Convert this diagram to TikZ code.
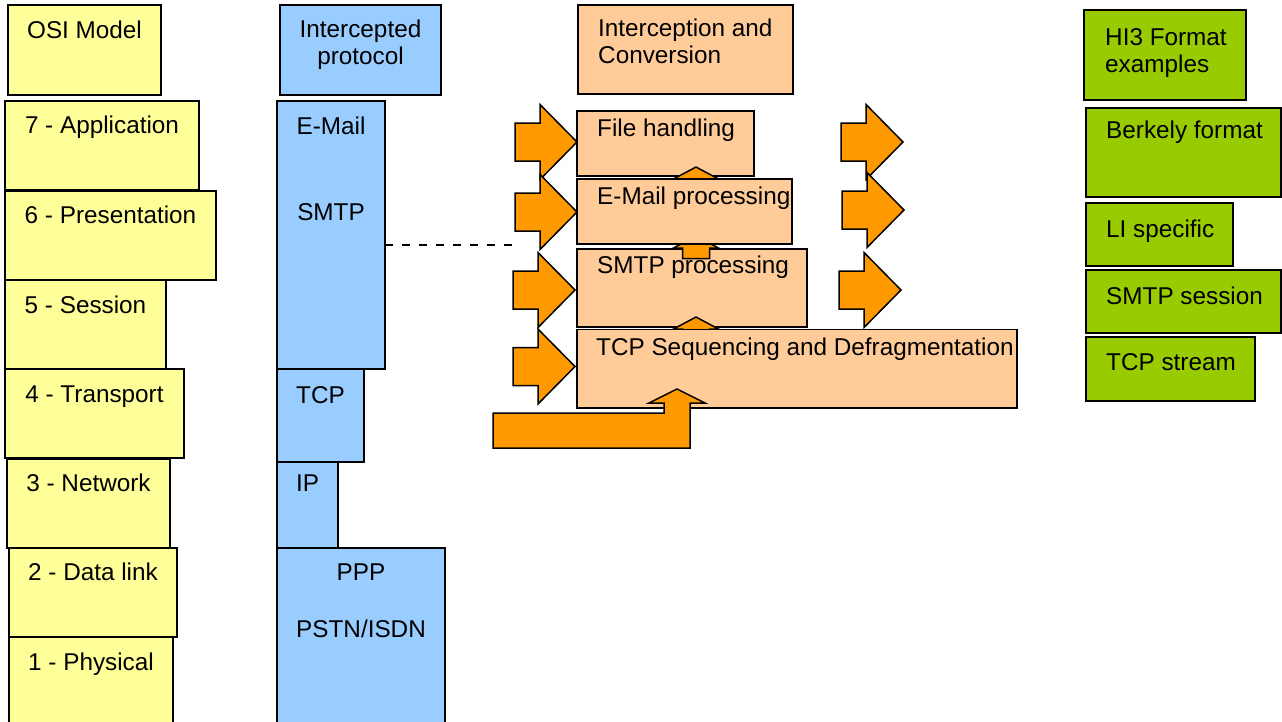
\documentclass[tikz,border=0pt]{standalone}
\usepackage{fontspec}
\setmainfont{Liberation Sans}
\usetikzlibrary{fit}
\definecolor{osiyellow}{HTML}{FFFF99}
\definecolor{protoblue}{HTML}{99CCFF}
\definecolor{convorange}{HTML}{FFCC99}
\definecolor{arroworange}{HTML}{FF9900}
\definecolor{hithreegreen}{HTML}{99CC00}
\begin{document}
\begin{tikzpicture}[x=1pt,y=-1pt,
  box/.style={draw=black,line width=1.5pt,inner sep=0pt,outer sep=0pt,rectangle},
  ybox/.style={box,fill=osiyellow},
  bbox/.style={box,fill=protoblue},
  obox/.style={box,fill=convorange},
  gbox/.style={box,fill=hithreegreen},
  arr/.style={draw=black,line width=1.5pt,fill=arroworange,line join=miter},
  txt/.style={inner sep=0pt,anchor=base,font=\fontsize{24.3}{27}\selectfont},
  ltxt/.style={txt,anchor=base west},
  dashline/.style={draw=black,line width=1.2pt,dash pattern=on 8pt off 9pt},
  rarrow/.pic={\path[arr] (0,0) -- (-37,-37.5) -- (-37,-19) -- (-62,-19) -- (-62,19) -- (-37,19) -- (-37,37.5) -- cycle;},
  uarrow/.pic={\path[arr] (0,0) -- (22.5,12) -- (13.5,12) -- (13.5,#1) -- (-13.5,#1) -- (-13.5,12) -- (-22.5,12) -- cycle;}
]
\useasboundingbox (0,0) rectangle (1282,721);
\fill[white] (0,0) rectangle (1282,721);

% OSI column
\node[ybox,fit={(8,5) (161,95)}] (osi) {};
\node[txt] (osit) at (84.5,38) {OSI Model};
\node[ybox,fit={(5,101) (199,190)}] (l7) {};
\node[txt] (l7t) at (102,133) {7 - Application};
\node[ybox,fit={(5,191) (216,280)}] (l6) {};
\node[txt] (l6t) at (110.5,223) {6 - Presentation};
\node[ybox,fit={(5,280) (166,369)}] (l5) {};
\node[txt] (l5t) at (85.5,313) {5 - Session};
\node[ybox,fit={(5,369) (184,458)}] (l4) {};
\node[txt] (l4t) at (94.5,402) {4 - Transport};
\node[ybox,fit={(7,459) (170,548)}] (l3) {};
\node[txt] (l3t) at (88.5,491) {3 - Network};
\node[ybox,fit={(9,548) (177,637)}] (l2) {};
\node[txt] (l2t) at (93,580) {2 - Data link};
\node[ybox,fit={(9,637) (173,732)}] (l1) {};
\node[txt] (l1t) at (91,670) {1 - Physical};

% Intercepted protocol column
\node[bbox,fit={(280,5) (441,95)}] (ip0) {};
\node[txt] (ip0a) at (360.5,37) {Intercepted};
\node[txt] (ip0b) at (360.5,64) {protocol};
\node[bbox,fit={(277,101) (385,369)}] (smtpbox) {};
\node[txt] (emailt) at (331,134) {E-Mail};
\node[txt] (smtpt) at (331,220) {SMTP};
\node[bbox,fit={(277,369) (364,462)}] (tcpbox) {};
\node[txt] (tcpt) at (320.5,403) {TCP};
\node[bbox,fit={(277,462) (338,548)}] (ipbox) {};
\node[txt] (ipt) at (307.5,491) {IP};
\node[bbox,fit={(277,548) (445,732)}] (pppbox) {};
\node[txt] (pppt) at (361,580) {PPP};
\node[txt] (pstnt) at (361,637) {PSTN/ISDN};

% dashed link
\coordinate (dashend) at (517,245);
\draw[dashline] (smtpbox.east |- dashend) -- (dashend);

% Interception and Conversion column
\node[obox,fit={(578,5) (793,94)}] (ic) {};
\node[ltxt] (ica) at (598,36) {Interception and};
\node[ltxt] (icb) at (598,63) {Conversion};

\pic at (577,142) {rarrow};
\pic at (577,212) {rarrow};
\pic at (575,290) {rarrow};
\pic at (575,366.5) {rarrow};

\node[obox,fit={(577,111) (754,176)}] (fh) {};
\node[obox,fit={(577,249) (807,327)}] (sp) {};
\pic at (696,167) {uarrow=22};
\pic at (696,236) {uarrow=22.5};
\pic at (696,317) {uarrow=22};
\node[obox,fit={(577,179) (792,244)}] (em) {};
\node[obox,fit={(577,329.5) (1017,408)}] (tcpd) {};
\node[ltxt] (fht) at (597,136) {File handling};
\node[ltxt] (emt) at (597,204) {E-Mail processing};
\node[ltxt] (spt) at (597,273) {SMTP processing};
\node[ltxt] (tcpdt) at (596,355) {TCP Sequencing and Defragmentation};

\path[arr] (493,413) -- (664,413) -- (664,403) -- (649,403) -- (677,389) -- (705,403) -- (690,403) -- (690,448) -- (493,448) -- cycle;

\pic at (903,142) {rarrow};
\pic at (904,210) {rarrow};
\pic at (901,290) {rarrow};

% HI3 column
\node[gbox,fit={(1084,10) (1246,100)}] (hi3) {};
\node[ltxt] (hi3a) at (1105,45) {HI3 Format};
\node[ltxt] (hi3b) at (1105,72) {examples};
\node[gbox,fit={(1086,108) (1281,197)}] (bk) {};
\node[ltxt] (bkt) at (1106,138) {Berkely format};
\node[gbox,fit={(1086,203) (1233,266)}] (li) {};
\node[ltxt] (lit) at (1106,237) {LI specific};
\node[gbox,fit={(1086,270) (1281,333)}] (ss) {};
\node[ltxt] (sst) at (1106,304) {SMTP session};
\node[gbox,fit={(1086,337) (1255,401)}] (ts) {};
\node[ltxt] (tst) at (1106,370) {TCP stream};
\end{tikzpicture}
\end{document}
